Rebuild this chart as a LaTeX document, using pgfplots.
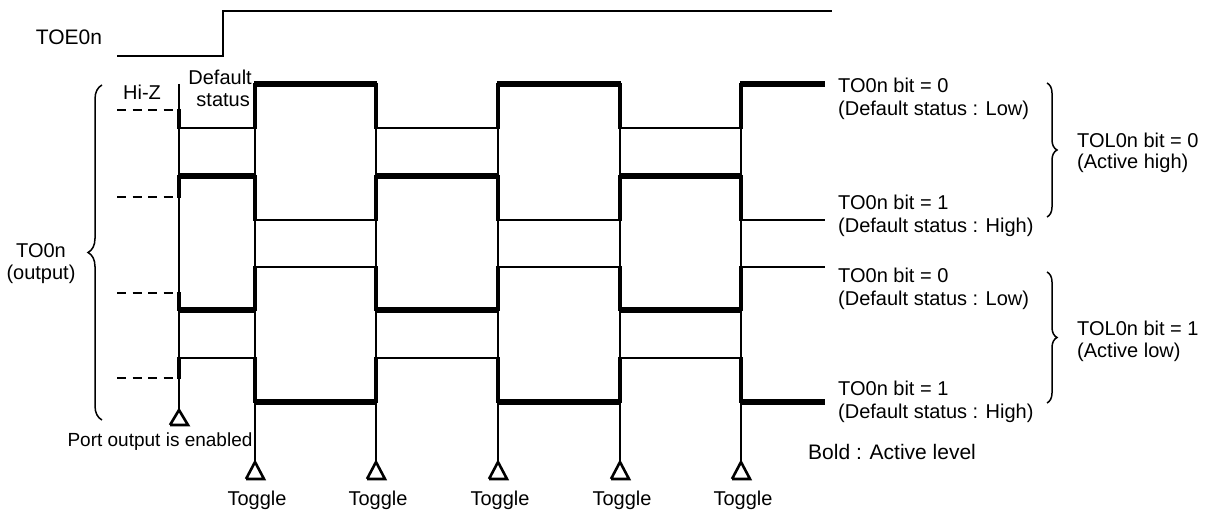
\documentclass[border=0pt]{standalone}
\usepackage{pgfplots}
\pgfplotsset{compat=1.18}
\usepackage{fontspec}
\setmainfont{Liberation Sans}
\usetikzlibrary{decorations.pathreplacing}
\tikzset{
  lbl/.style={font=\fontsize{20}{24}\selectfont, inner sep=0pt},
  thinw/.style={black, line width=2.2pt, mark=none},
  edge/.style={black, line width=3.2pt, mark=none},
  boldl/.style={black, line width=5.6pt, mark=none},
  guide/.style={black, line width=1.4pt, mark=none},
  dsh/.style={black, line width=2.6pt, mark=none, dash pattern=on 9pt off 6.5pt},
  tri/.style={black, line width=2.6pt, mark=none, line join=miter},
}
\begin{document}
\begin{tikzpicture}
\begin{axis}[
  width=1214pt, height=513pt, scale only axis,
  xmin=0, xmax=1214, ymin=0, ymax=513, y dir=reverse,
  hide axis, clip=false, unbounded coords=jump,
]
\path (rel axis cs:0,0) rectangle (rel axis cs:1,1);
% TOE0n
\addplot[thinw] coordinates {(117,56) (223,56) (223,11) (832,11)};
% guide lines
\addplot[guide] coordinates {(179,84) (179,410) (255,nan) (255,84) (255,462) (376,nan) (376,84) (376,462) (498,nan) (498,84) (498,462) (620,nan) (620,84) (620,462) (741,nan) (741,84) (741,462)};
% Hi-Z dashed
\addplot[dsh] coordinates {(117,110) (179,110)};
\addplot[dsh] coordinates {(117,197) (179,197)};
\addplot[dsh] coordinates {(117,293) (179,293)};
\addplot[dsh] coordinates {(117,378) (179,378)};
% wave 1
\addplot[thinw] coordinates {(179,128) (255,128) (255,84) (376,84) (376,128) (498,128) (498,84) (620,84) (620,128) (741,128) (741,84) (825,84)};
\addplot[edge] coordinates {(179,109) (179,129) (255,nan) (255,129) (255,83) (376,nan) (376,83) (376,129) (498,nan) (498,129) (498,83) (620,nan) (620,83) (620,129) (741,nan) (741,129) (741,83)};
\addplot[boldl] coordinates {(254,84) (377,84) (400,nan) (497,84) (621,84) (650,nan) (740,84) (825,84)};
% wave 2
\addplot[thinw] coordinates {(179,176) (255,176) (255,220) (376,220) (376,176) (498,176) (498,220) (620,220) (620,176) (741,176) (741,220) (825,220)};
\addplot[edge] coordinates {(179,198) (179,175) (255,nan) (255,175) (255,221) (376,nan) (376,221) (376,175) (498,nan) (498,175) (498,221) (620,nan) (620,221) (620,175) (741,nan) (741,175) (741,221)};
\addplot[boldl] coordinates {(178,176) (256,176) (300,nan) (375,176) (499,176) (550,nan) (619,176) (742,176)};
% wave 3
\addplot[thinw] coordinates {(179,310) (255,310) (255,267) (376,267) (376,310) (498,310) (498,267) (620,267) (620,310) (741,310) (741,267) (825,267)};
\addplot[edge] coordinates {(179,292) (179,311) (255,nan) (255,311) (255,266) (376,nan) (376,266) (376,311) (498,nan) (498,311) (498,266) (620,nan) (620,266) (620,311) (741,nan) (741,311) (741,266)};
\addplot[boldl] coordinates {(178,310) (256,310) (300,nan) (375,310) (499,310) (550,nan) (619,310) (742,310)};
% wave 4
\addplot[thinw] coordinates {(179,358) (255,358) (255,402) (376,402) (376,358) (498,358) (498,402) (620,402) (620,358) (741,358) (741,402) (825,402)};
\addplot[edge] coordinates {(179,379) (179,357) (255,nan) (255,357) (255,403) (376,nan) (376,403) (376,357) (498,nan) (498,357) (498,403) (620,nan) (620,403) (620,357) (741,nan) (741,357) (741,403)};
\addplot[boldl] coordinates {(254,402) (377,402) (400,nan) (497,402) (621,402) (650,nan) (740,402) (825,402)};
% triangles
\addplot[tri] coordinates {(170,425) (179,410) (188,425) (170,425)};
\addplot[tri] coordinates {(246,479) (255,462) (264,479) (246,479)};
\addplot[tri] coordinates {(367,479) (376,462) (385,479) (367,479)};
\addplot[tri] coordinates {(489,479) (498,462) (507,479) (489,479)};
\addplot[tri] coordinates {(611,479) (620,462) (629,479) (611,479)};
\addplot[tri] coordinates {(732,479) (741,462) (750,479) (732,479)};
% braces
\draw[decorate, decoration={brace, amplitude=14pt}, line width=1.5pt] (axis cs:102,420) -- (axis cs:102,85);
\draw[decorate, decoration={brace, amplitude=10pt}, line width=1.5pt] (axis cs:1047,83) -- (axis cs:1047,217);
\draw[decorate, decoration={brace, amplitude=10pt}, line width=1.5pt] (axis cs:1047,272) -- (axis cs:1047,403);
% labels
\node[lbl, font=\fontsize{21}{24}\selectfont] at (axis cs:69,37) {TOE0n};
\node[lbl] at (axis cs:142,92) {Hi-Z};
\node[lbl, anchor=east] at (axis cs:252,77) {Default};
\node[lbl, anchor=east] at (axis cs:250,100) {status};
\node[lbl] at (axis cs:41,251) {TO0n};
\node[lbl] at (axis cs:41,274) {(output)};
\node[lbl, font=\fontsize{19}{24}\selectfont] at (axis cs:160,442) {Port output is enabled};
\node[lbl] at (axis cs:257,500) {Toggle};
\node[lbl] at (axis cs:378,500) {Toggle};
\node[lbl] at (axis cs:500,500) {Toggle};
\node[lbl] at (axis cs:622,500) {Toggle};
\node[lbl] at (axis cs:743,500) {Toggle};
\node[lbl, anchor=west] at (axis cs:838,85) {TO0n bit = 0};
\node[lbl, anchor=west] at (axis cs:838,110) {(Default status : Low)};
\node[lbl, anchor=west] at (axis cs:838,202) {TO0n bit = 1};
\node[lbl, anchor=west] at (axis cs:838,227) {(Default status : High)};
\node[lbl, anchor=west] at (axis cs:838,275) {TO0n bit = 0};
\node[lbl, anchor=west] at (axis cs:838,300) {(Default status : Low)};
\node[lbl, anchor=west] at (axis cs:838,388) {TO0n bit = 1};
\node[lbl, anchor=west] at (axis cs:838,413) {(Default status : High)};
\node[lbl, anchor=west] at (axis cs:1077,140) {TOL0n bit = 0};
\node[lbl, anchor=west] at (axis cs:1077,163) {(Active high)};
\node[lbl, anchor=west] at (axis cs:1077,328) {TOL0n bit = 1};
\node[lbl, anchor=west] at (axis cs:1077,352) {(Active low)};
\node[lbl, anchor=west, font=\fontsize{21}{24}\selectfont] at (axis cs:808,452) {Bold : Active level};
\end{axis}
\end{tikzpicture}
\end{document}
